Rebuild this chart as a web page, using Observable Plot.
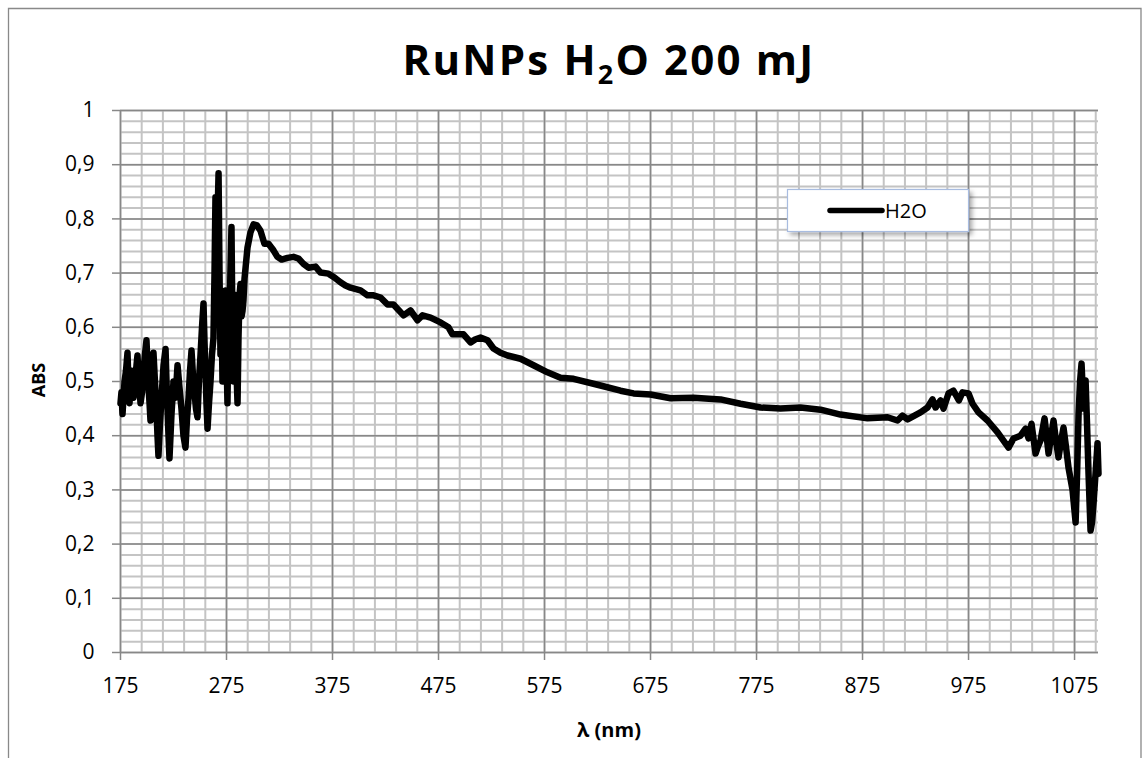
<!DOCTYPE html>
<html>
<head>
<meta charset="utf-8">
<script src="https://cdn.jsdelivr.net/npm/d3@7"></script>
<script src="https://cdn.jsdelivr.net/npm/@observablehq/plot@0.6"></script>
<style>
  html, body { margin: 0; padding: 0; background: #fff; }
  #chart { position: relative; width: 1144px; height: 758px; overflow: hidden; }
</style>
</head>
<body>
<div id="chart"></div>
<script>
// ---- data ----
const titleMain = "RuNPs H";
const titleSub = "2";
const titleRest = "O 200 mJ";
const xLabel = "λ (nm)";
const yLabel = "ABS";
const seriesName = "H2O";

const xTicks = [175, 275, 375, 475, 575, 675, 775, 875, 975, 1075];
const yTicks = [0, 0.1, 0.2, 0.3, 0.4, 0.5, 0.6, 0.7, 0.8, 0.9, 1];
const yTickLabels = ["0", "0,1", "0,2", "0,3", "0,4", "0,5", "0,6", "0,7", "0,8", "0,9", "1"];

const wavelength = [
  175, 175.9, 176.9, 177.8, 178.8, 180.2, 181.6, 182.5, 183.5, 184.4, 185.4, 186.3, 187.3, 188.2, 189.2, 190.1, 191, 192.4, 193.9,
  195.3, 196.7, 198.1, 199.5, 200.5, 201.4, 202.4, 203.3, 204.7, 206.1, 207.5, 208.9, 209.9, 210.8, 212.2, 213.7, 215.6, 217.5, 218.4, 219.3,
  220.3, 221.2, 223.1, 225, 226.9, 228.8, 230.6, 232.5, 234.4, 236.3, 237.7, 239.2, 240.6, 242, 243.4, 244.8, 246.2, 247.6, 249, 250.5,
  251.9, 253.3, 254.3, 255.2, 256.1, 257.1, 258.5, 259.9, 261.3, 262.7, 263.7, 264.6, 265.5, 266.5, 267.5, 268.4, 269.3, 270.2, 271.2,
  272.2, 273.1, 274.1, 275, 275.9, 276.8, 277.8, 278.7, 279.7, 280.6, 281.6, 282.5, 283.5, 284.4, 285.4, 286.3, 287.3, 288.2, 289.2,
  290.1, 291, 292, 294.8,
  297.6, 300.5, 303.8, 307.1, 310.8, 314.6, 319.3, 323, 326.9, 332.5, 338.2, 342.9, 347.6, 352.4,
  359, 363.7, 371.2, 376.8, 382.5, 387.2, 392, 401.4, 408, 413.7, 420.3, 426.9,
  432.5, 437.3, 442, 448.6, 455.2, 459.9, 467.5, 476.9, 484.4, 488.2, 498.6,
  505.2, 509.9, 514.6, 521.2, 526.9, 533.5, 540.1, 552.4, 564.6, 577.8, 590.1, 602.4,
  625, 646.7, 659, 675, 693.9, 715.6, 741, 759.9, 778.8, 797.6,
  816.5, 835.4, 854.2, 879.7, 898.6, 908, 912.7, 917.5, 929.7, 936.3,
  941, 943.9, 948.6, 951.4, 956.1, 960.8, 965.9, 969.3, 975, 978.8,
  984.4, 992.9, 1002.4, 1012.7, 1017.5, 1024, 1028.8, 1031.6, 1034.4, 1038.2,
  1040.5, 1042.9, 1046.7, 1048.6, 1050.5, 1052.9, 1055.2, 1057.5, 1059.9, 1062.3, 1064.6, 1066.9, 1069.3, 1073.1, 1076, 1077.4, 1078.8,
  1080.2, 1081.6, 1083.5, 1085.4, 1086.8, 1088.2, 1090.1, 1091.5, 1092.9, 1094.8, 1096.7, 1097.6
];
const absorbance = [
  0.46, 0.48, 0.44, 0.47, 0.50, 0.52, 0.553, 0.50, 0.46, 0.49, 0.52, 0.48, 0.47, 0.50, 0.51, 0.53, 0.548, 0.50, 0.46,
  0.48, 0.52, 0.55, 0.576, 0.53, 0.49, 0.46, 0.428, 0.50, 0.553, 0.50, 0.45, 0.40, 0.363, 0.42, 0.47, 0.53, 0.56, 0.50, 0.45,
  0.40, 0.358, 0.44, 0.50, 0.47, 0.53, 0.49, 0.45, 0.40, 0.378, 0.43, 0.47, 0.52, 0.557, 0.51, 0.48, 0.45, 0.434, 0.50, 0.55,
  0.60, 0.644, 0.57, 0.52, 0.46, 0.413, 0.46, 0.50, 0.55, 0.58, 0.70, 0.84, 0.70, 0.80, 0.884, 0.70, 0.55, 0.66, 0.50,
  0.64, 0.52, 0.668, 0.55, 0.46, 0.60, 0.62, 0.70, 0.785, 0.60, 0.50, 0.66, 0.60, 0.52, 0.46, 0.58, 0.66, 0.68, 0.62,
  0.63, 0.65, 0.69, 0.747,
  0.775, 0.79, 0.788, 0.778, 0.754, 0.754, 0.742, 0.73, 0.725, 0.728, 0.73, 0.727, 0.717, 0.71,
  0.712, 0.701, 0.699, 0.692, 0.683, 0.677, 0.673, 0.668, 0.659, 0.659, 0.655, 0.642,
  0.642, 0.632, 0.622, 0.631, 0.613, 0.622, 0.618, 0.609, 0.60, 0.587, 0.587,
  0.572, 0.578, 0.581, 0.576, 0.561, 0.553, 0.548, 0.542, 0.53, 0.517, 0.507, 0.505,
  0.494, 0.483, 0.478, 0.476, 0.469, 0.47, 0.467, 0.459, 0.452, 0.45,
  0.452, 0.448, 0.439, 0.432, 0.434, 0.428, 0.437, 0.43, 0.443, 0.452,
  0.467, 0.452, 0.465, 0.45, 0.478, 0.483, 0.465, 0.48, 0.478, 0.459,
  0.443, 0.428, 0.406, 0.378, 0.395, 0.40, 0.413, 0.395, 0.422, 0.367,
  0.38, 0.391, 0.432, 0.40, 0.367, 0.40, 0.428, 0.39, 0.36, 0.39, 0.415, 0.38, 0.341, 0.30, 0.24, 0.33, 0.44,
  0.50, 0.533, 0.45, 0.502, 0.42, 0.33, 0.225, 0.24, 0.275, 0.33, 0.386, 0.33
];

// ---- build ----
const data = wavelength.map((w, i) => ({wl: w, abs: absorbance[i]}));
const xMinor = d3.range(175, 1098, 20);
const yMinor = d3.range(0, 51).map(i => i / 50);

const W = 1144, H = 758;
const FONT = "'Open Sans', sans-serif";
const svg = Plot.plot({
  width: W,
  height: H,
  marginLeft: 120,
  marginRight: 46,
  marginTop: 110,
  marginBottom: 106,
  style: {fontFamily: FONT, fontSize: "21px", color: "#000", background: "#fff"},
  x: {domain: [175, 1097.6]},
  y: {domain: [0, 1]},
  marks: [
    Plot.ruleX(xMinor, {stroke: "#c4c4c4", strokeWidth: 2}),
    Plot.ruleY(yMinor, {stroke: "#c4c4c4", strokeWidth: 2}),
    Plot.ruleX(xTicks, {stroke: "#888", strokeWidth: 1.5}),
    Plot.ruleY(yTicks, {stroke: "#888", strokeWidth: 1.5}),
    Plot.axisX({ticks: xTicks, tickSize: 8, tickPadding: 18, label: null, stroke: "#888", strokeWidth: 1.5, fill: "#000", tickFormat: d => String(d)}),
    Plot.axisY({ticks: yTicks, tickSize: 8, tickPadding: 18, label: null, stroke: "#888", strokeWidth: 1.5, fill: "#000",
      tickFormat: d => yTickLabels[yTicks.findIndex(t => Math.abs(t - d) < 1e-9)]}),
    Plot.line(data, {x: "wl", y: "abs", stroke: "#000", strokeWidth: 6.5, strokeLinejoin: "round", strokeLinecap: "round"})
  ]
});

const s = d3.select(svg);
// outer border
s.append("path").attr("d", `M8.5,${H + 5} V8.5 H1141 V${H + 5}`).attr("fill", "none").attr("stroke", "#898989").attr("stroke-width", 1.3);

// title
const t = s.append("text").attr("x", 609).attr("y", 75).attr("text-anchor", "middle")
  .attr("font-family", FONT).attr("font-weight", "bold").attr("font-size", 42).attr("letter-spacing", 2.2).attr("fill", "#000");
t.append("tspan").text(titleMain);
t.append("tspan").attr("font-size", 27).attr("dy", 9).text(titleSub);
t.append("tspan").attr("dy", -9).text(titleRest);

// axis labels
s.append("text").attr("transform", "translate(45,380) rotate(-90)").attr("text-anchor", "middle")
  .attr("font-family", FONT).attr("font-weight", "bold").attr("font-size", 18).attr("fill", "#000").text(yLabel);
s.append("text").attr("x", 609).attr("y", 737).attr("text-anchor", "middle")
  .attr("font-family", FONT).attr("font-weight", "bold").attr("font-size", 20).attr("fill", "#000").text(xLabel);

// legend
const defs = s.append("defs");
const f = defs.append("filter").attr("id", "shadow").attr("x", "-10%").attr("y", "-20%").attr("width", "130%").attr("height", "160%");
f.append("feDropShadow").attr("dx", 3).attr("dy", 3).attr("stdDeviation", 2.5).attr("flood-color", "#000").attr("flood-opacity", 0.35);
s.append("rect").attr("x", 787.5).attr("y", 189.5).attr("width", 181).attr("height", 42)
  .attr("fill", "#fff").attr("stroke", "#a8bce0").attr("stroke-width", 1.2).attr("filter", "url(#shadow)");
s.append("line").attr("x1", 830).attr("x2", 882).attr("y1", 210.5).attr("y2", 210.5)
  .attr("stroke", "#000").attr("stroke-width", 5.5).attr("stroke-linecap", "round");
s.append("text").attr("x", 885).attr("y", 218).attr("text-anchor", "start")
  .attr("font-family", FONT).attr("font-size", 20).attr("fill", "#000").text(seriesName);

document.getElementById("chart").appendChild(svg);
</script>
</body>
</html>
